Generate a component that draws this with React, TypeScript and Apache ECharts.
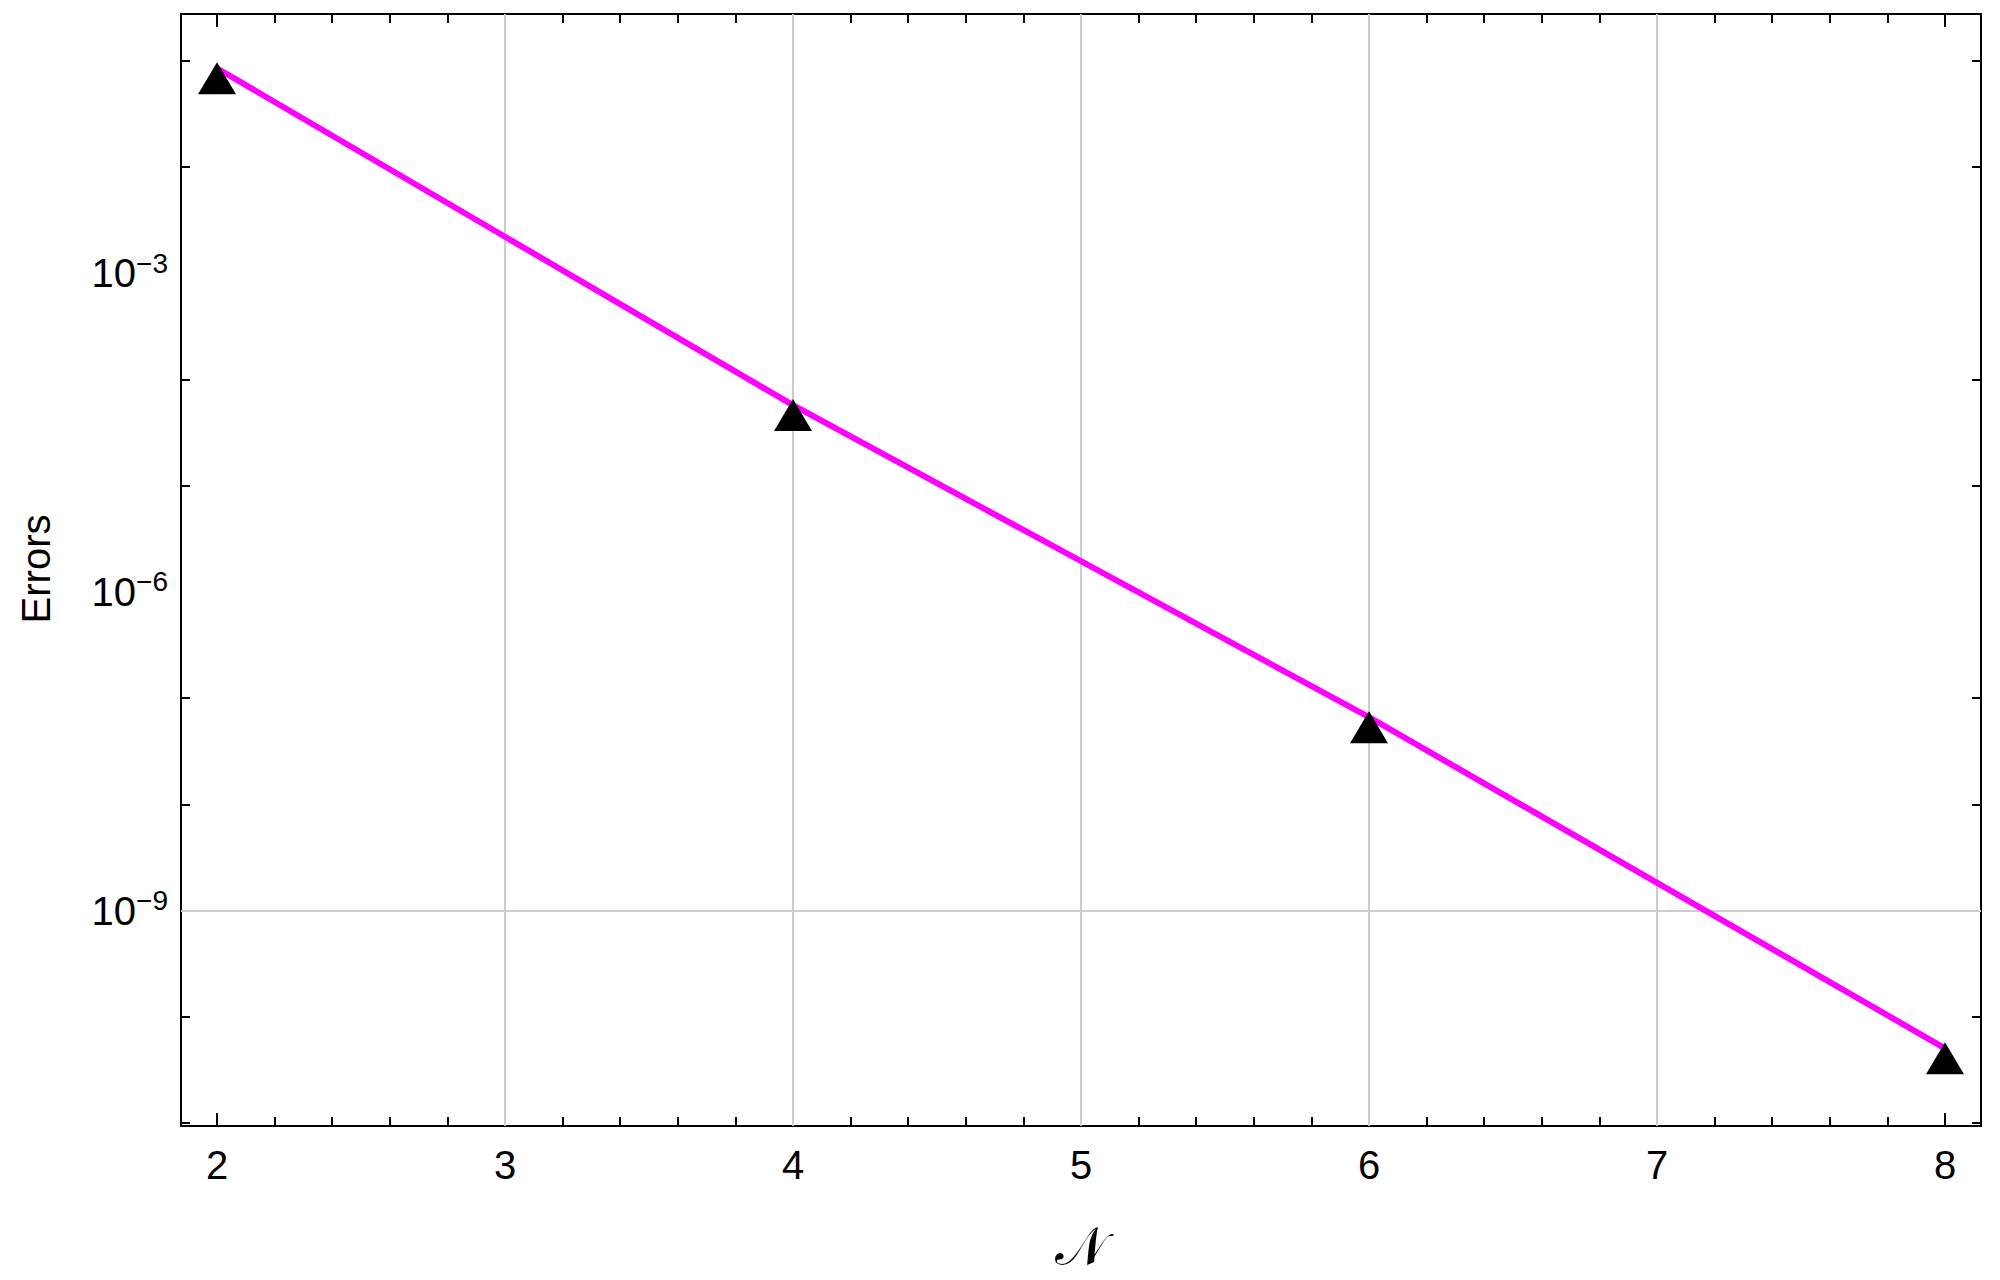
import React, { useEffect, useRef } from "react";
import * as echarts from "echarts";

// ---- data ----
const nValues = [2, 4, 6, 8];
const errorValues = [8.5e-2, 5.73e-5, 6.61e-8, 5.05e-11];

// ---- axes ----
const xMajorTicks = [2, 3, 4, 5, 6, 7, 8];
const xGridLines = [3, 4, 5, 6, 7];
const yLabelExps = [-3, -6, -9];
const yMinorExps = [-1, -2, -4, -5, -7, -8, -10, -11];
const yGridExps = [-9];

const X_MIN = 1.875;
const X_MAX = 8.125;
const Y_MIN = Math.pow(10, -11.028);
const Y_MAX = Math.pow(10, -0.56);

const FONT = "'Liberation Sans', Arial, sans-serif";

function xMinorTicks(): number[] {
  const out: number[] = [];
  for (let i = 0; i < xMajorTicks.length - 1; i++) {
    const a = xMajorTicks[i];
    const b = xMajorTicks[i + 1];
    for (let k = 1; k < 5; k++) out.push(+(a + ((b - a) * k) / 5).toFixed(4));
  }
  return out;
}

export default function App() {
  const ref = useRef<HTMLDivElement>(null);
  useEffect(() => {
    if (!ref.current) return;
    const chart = echarts.init(ref.current, null, { renderer: "svg" });
    const minor = xMinorTicks();
    const yMinorVals = yMinorExps.map((e) => Math.pow(10, e));
    const yLabelVals = yLabelExps.map((e) => Math.pow(10, e));

    const frameLine = { show: true, onZero: false, lineStyle: { color: "#000", width: 2 } };
    const baseX = {
      type: "value" as const,
      min: X_MIN,
      max: X_MAX,
      splitLine: { show: false },
      minorTick: { show: false },
    };
    const baseY = {
      type: "log" as const,
      logBase: 10,
      min: Y_MIN,
      max: Y_MAX,
      splitLine: { show: false },
      minorTick: { show: false },
    };

    const option: any = {
      animation: false,
      backgroundColor: "#fff",
      grid: { left: 181, top: 14, right: 19, bottom: 154, containLabel: false },
      xAxis: [
        {
          ...baseX,
          position: "bottom",
          axisLine: frameLine,
          axisTick: { show: true, inside: true, length: 13, customValues: xMajorTicks, lineStyle: { color: "#000", width: 2 } },
          axisLabel: {
            show: true,
            customValues: xMajorTicks,
            margin: 19,
            fontSize: 40,
            fontFamily: FONT,
            color: "#000",
            formatter: (v: number) => String(Math.round(v)),
          },
        },
        {
          ...baseX,
          position: "bottom",
          axisLine: { show: false },
          axisTick: { show: true, inside: true, length: 9, customValues: minor, lineStyle: { color: "#000", width: 2 } },
          axisLabel: { show: false },
        },
        {
          ...baseX,
          position: "top",
          axisLine: frameLine,
          axisTick: { show: true, inside: true, length: 13, customValues: xMajorTicks, lineStyle: { color: "#000", width: 2 } },
          axisLabel: { show: false },
        },
        {
          ...baseX,
          position: "top",
          axisLine: { show: false },
          axisTick: { show: true, inside: true, length: 9, customValues: minor, lineStyle: { color: "#000", width: 2 } },
          axisLabel: { show: false },
        },
      ],
      yAxis: [
        {
          ...baseY,
          position: "left",
          axisLine: frameLine,
          axisTick: { show: true, inside: true, length: 9, customValues: yMinorVals, lineStyle: { color: "#000", width: 2 } },
          axisLabel: {
            show: true,
            customValues: yLabelVals,
            margin: 13,
            formatter: (v: number) => `{b|10}{s|−${Math.abs(Math.round(Math.log10(v)))}}`,
            rich: {
              b: { fontSize: 40, lineHeight: 48, fontFamily: FONT, color: "#000" },
              s: { fontSize: 28, lineHeight: 28, verticalAlign: "top", fontFamily: FONT, color: "#000" },
            },
          },
        },
        {
          ...baseY,
          position: "right",
          axisLine: frameLine,
          axisTick: { show: true, inside: true, length: 9, customValues: yMinorVals, lineStyle: { color: "#000", width: 2 } },
          axisLabel: { show: false },
        },
      ],
      graphic: [
        {
          type: "text",
          x: 36,
          y: 569,
          rotation: Math.PI / 2,
          style: {
            text: "Errors",
            fontSize: 40,
            fontFamily: FONT,
            fill: "#000",
            align: "center",
            verticalAlign: "middle",
          },
        },
        {
          type: "text",
          x: 1081,
          y: 1246,
          style: {
            text: "𝒩",
            fontSize: 54,
            fontFamily: "'DejaVu Serif', 'DejaVu Sans', serif",
            fill: "#000",
            align: "center",
            verticalAlign: "middle",
          },
        },
      ],
      series: [
        {
          type: "line",
          xAxisIndex: 0,
          yAxisIndex: 0,
          data: nValues.map((n, i) => [n, errorValues[i]]),
          lineStyle: { color: "#ff00ff", width: 6 },
          symbol: "triangle",
          symbolSize: [38, 32],
          symbolOffset: [0, 10],
          itemStyle: { color: "#000" },
          z: 3,
          markLine: {
            silent: true,
            symbol: "none",
            z: 1,
            label: { show: false },
            lineStyle: { color: "#cccccc", width: 2, type: "solid" },
            data: [
              ...xGridLines.map((x) => [
                { coord: [x, Y_MIN] },
                { coord: [x, Y_MAX] },
              ]),
              ...yGridExps.map((e) => [
                { coord: [X_MIN, Math.pow(10, e)] },
                { coord: [X_MAX, Math.pow(10, e)] },
              ]),
            ],
          },
        },
      ],
    };
    chart.setOption(option);
    return () => chart.dispose();
  }, []);
  return (
    <div
      ref={ref}
      style={{ position: "fixed", left: 0, top: 0, width: 2000, height: 1280 }}
    />
  );
}
